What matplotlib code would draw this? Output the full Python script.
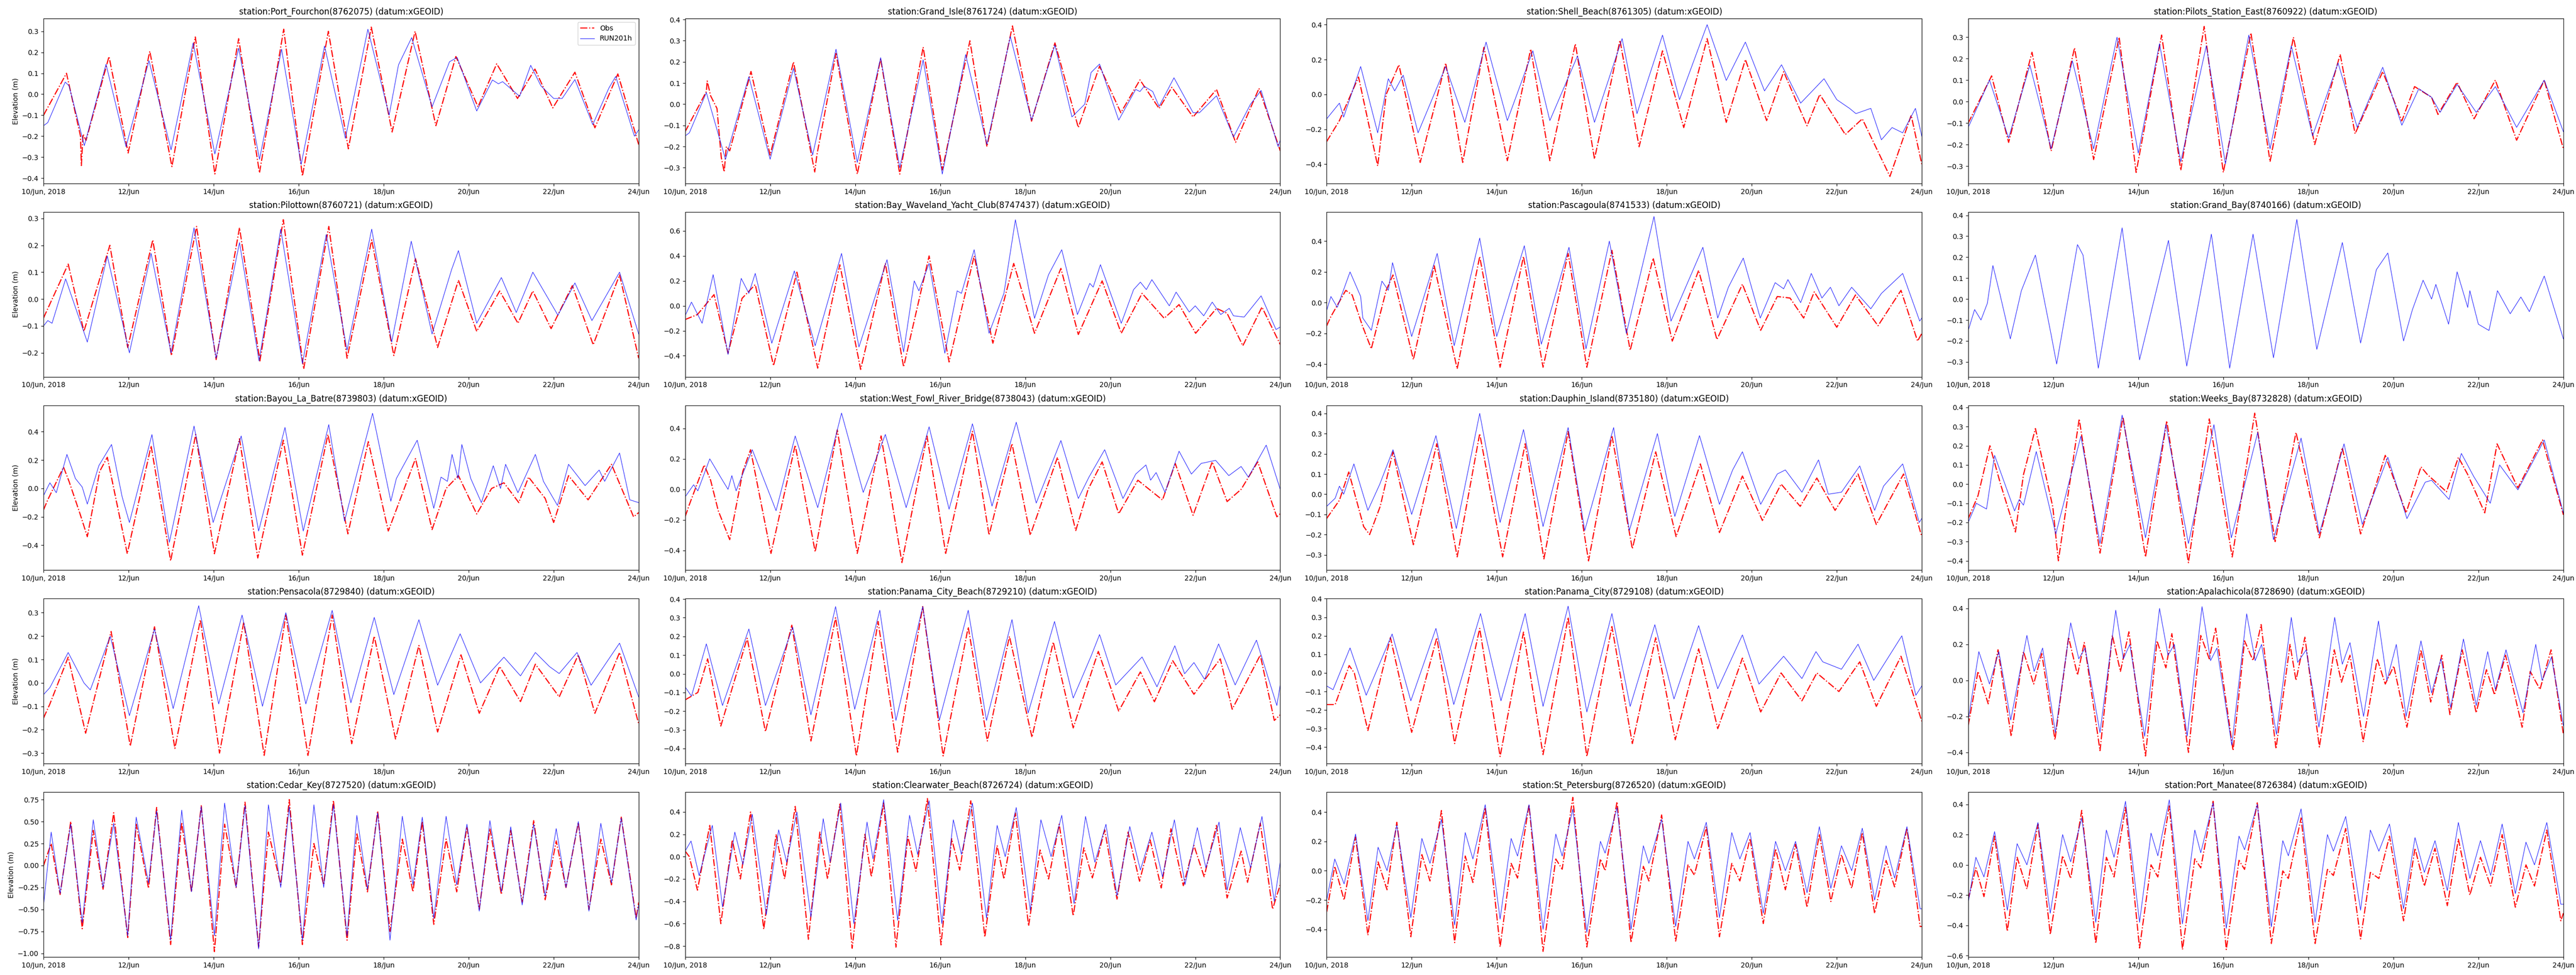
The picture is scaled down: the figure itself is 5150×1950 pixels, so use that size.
import numpy as np
import pandas as pd
import matplotlib
matplotlib.use("Agg")
import matplotlib.pyplot as plt

# days of June 2018 (peaks / troughs / kinks)
tick_days = [10, 12, 14, 16, 18, 20, 22, 24]
tick_labels = ["10/Jun, 2018", "12/Jun", "14/Jun", "16/Jun", "18/Jun", "20/Jun", "22/Jun", "24/Jun"]

station_names = [
    "Port_Fourchon(8762075)", "Grand_Isle(8761724)", "Shell_Beach(8761305)", "Pilots_Station_East(8760922)",
    "Pilottown(8760721)", "Bay_Waveland_Yacht_Club(8747437)", "Pascagoula(8741533)", "Grand_Bay(8740166)",
    "Bayou_La_Batre(8739803)", "West_Fowl_River_Bridge(8738043)", "Dauphin_Island(8735180)", "Weeks_Bay(8732828)",
    "Pensacola(8729840)", "Panama_City_Beach(8729210)", "Panama_City(8729108)", "Apalachicola(8728690)",
    "Cedar_Key(8727520)", "Clearwater_Beach(8726724)", "St_Petersburg(8726520)", "Port_Manatee(8726384)",
]

y_limits = [
    (-0.425, 0.361), (-0.374, 0.405), (-0.51, 0.435), (-0.381, 0.387),
    (-0.289, 0.324), (-0.569, 0.753), (-0.482, 0.590), (-0.371, 0.416),
    (-0.576, 0.586), (-0.530, 0.551), (-0.376, 0.440), (-0.449, 0.411),
    (-0.345, 0.360), (-0.481, 0.402), (-0.488, 0.400), (-0.462, 0.454),
    (-1.041, 0.835), (-0.898, 0.578), (-0.588, 0.536), (-0.609, 0.481),
]

port_fourchon_obs = [(10.0, -0.10), (10.54, 0.10), (10.87, -0.20), (10.89, -0.34), (10.93, -0.19), (11.0, -0.22),
    (11.54, 0.18), (11.99, -0.28), (12.50, 0.205), (13.02, -0.345), (13.57, 0.273), (14.03, -0.38), (14.59, 0.265),
    (15.08, -0.375), (15.65, 0.31), (16.09, -0.39), (16.70, 0.30), (17.17, -0.26), (17.71, 0.32), (18.2, -0.18),
    (18.74, 0.30), (19.23, -0.15), (19.70, 0.18), (20.22, -0.06), (20.66, 0.145), (21.15, -0.02), (21.56, 0.12),
    (21.98, -0.065), (22.50, 0.105), (22.97, -0.16), (23.51, 0.097), (24.0, -0.24)]
port_fourchon_run = [(10.0, -0.15), (10.1, -0.135), (10.51, 0.058), (10.6, 0.04), (10.96, -0.245), (11.47, 0.143),
    (11.94, -0.25), (12.48, 0.16), (13.0, -0.265), (13.52, 0.245), (14.03, -0.285), (14.59, 0.22), (15.08, -0.31),
    (15.6, 0.215), (16.06, -0.335), (16.61, 0.23), (17.1, -0.21), (17.63, 0.31), (18.13, -0.10), (18.35, 0.14),
    (18.66, 0.27), (19.14, -0.06), (19.55, 0.155), (19.73, 0.175), (20.19, -0.08), (20.56, 0.068), (20.7, 0.05),
    (20.8, 0.06), (21.2, -0.01), (21.46, 0.138), (21.7, 0.04), (22.0, -0.02), (22.2, -0.02), (22.5, 0.07),
    (22.92, -0.145), (23.3, 0.03), (23.46, 0.085), (23.9, -0.2), (24.0, -0.17)]

grand_isle_obs = [(10.0, -0.13), (10.5, 0.06), (10.52, 0.11), (10.6, 0.04), (10.75, -0.02), (10.85, -0.25),
    (10.92, -0.32), (10.97, -0.2), (11.05, -0.22), (11.55, 0.155), (12.0, -0.24), (12.55, 0.20), (13.0, -0.27),
    (13.05, -0.32), (13.1, -0.24), (13.55, 0.24), (14.05, -0.33), (14.6, 0.215), (15.05, -0.33), (15.6, 0.27),
    (16.05, -0.31), (16.7, 0.30), (17.1, -0.20), (17.7, 0.37), (18.15, -0.08), (18.7, 0.29), (19.25, -0.11),
    (19.75, 0.18), (20.25, -0.04), (20.7, 0.115), (21.15, -0.02), (21.45, 0.08), (21.95, -0.06), (22.5, 0.07),
    (22.95, -0.18), (23.5, 0.075), (24.0, -0.22)]
grand_isle_run = [(10.0, -0.15), (10.1, -0.135), (10.5, 0.055), (10.95, -0.26), (11.5, 0.13), (12.0, -0.26),
    (12.55, 0.17), (13.0, -0.24), (13.55, 0.26), (14.05, -0.275), (14.6, 0.22), (15.05, -0.30), (15.6, 0.21),
    (16.05, -0.33), (16.6, 0.235), (17.1, -0.19), (17.65, 0.32), (18.15, -0.075), (18.7, 0.28), (19.1, -0.06),
    (19.4, 0.0), (19.55, 0.15), (19.75, 0.19), (20.2, -0.075), (20.6, 0.07), (20.7, 0.06), (20.8, 0.085),
    (21.0, 0.06), (21.15, -0.01), (21.5, 0.125), (21.95, -0.04), (22.1, -0.04), (22.5, 0.04), (22.9, -0.155),
    (23.3, 0.0), (23.55, 0.065), (23.95, -0.2), (24.0, -0.17)]

shell_beach_obs = [(10.0, -0.27), (10.3, -0.15), (10.75, 0.10), (11.2, -0.41), (11.4, 0.0), (11.7, 0.17),
    (12.2, -0.39), (12.8, 0.18), (13.2, -0.39), (13.7, 0.27), (14.25, -0.38), (14.8, 0.26), (15.25, -0.38),
    (15.85, 0.29), (16.3, -0.37), (16.9, 0.31), (17.35, -0.30), (17.9, 0.25), (18.4, -0.19), (18.95, 0.32),
    (19.4, -0.16), (19.85, 0.20), (20.35, -0.15), (20.75, 0.13), (21.3, -0.18), (21.6, 0.0), (22.2, -0.23),
    (22.6, -0.14), (23.25, -0.47), (23.75, -0.12), (24.0, -0.40)]
shell_beach_run = [(10.0, -0.14), (10.3, -0.05), (10.4, -0.13), (10.8, 0.16), (11.2, -0.22), (11.45, 0.09),
    (11.6, 0.02), (11.8, 0.11), (12.15, -0.22), (12.8, 0.16), (13.25, -0.16), (13.75, 0.30), (14.25, -0.15),
    (14.85, 0.25), (15.25, -0.15), (15.9, 0.22), (16.3, -0.16), (16.95, 0.32), (17.3, -0.11), (17.9, 0.34),
    (18.3, -0.03), (18.95, 0.40), (19.4, 0.08), (19.85, 0.30), (20.3, 0.02), (20.7, 0.17), (21.15, -0.05),
    (21.7, 0.09), (22.0, -0.03), (22.3, -0.08), (22.45, -0.11), (22.8, -0.08), (23.05, -0.26), (23.3, -0.19),
    (23.55, -0.22), (23.85, -0.08), (24.0, -0.24)]

pilots_obs = [(10.0, -0.10), (10.55, 0.12), (10.95, -0.19), (11.5, 0.23), (11.95, -0.23), (12.5, 0.25),
    (12.95, -0.27), (13.55, 0.30), (13.95, -0.33), (14.55, 0.31), (15.0, -0.32), (15.55, 0.35), (16.0, -0.33),
    (16.65, 0.32), (17.1, -0.28), (17.65, 0.30), (18.15, -0.20), (18.75, 0.22), (19.1, -0.15), (19.75, 0.14),
    (20.2, -0.09), (20.5, 0.07), (20.9, 0.02), (21.05, -0.06), (21.5, 0.09), (21.9, -0.08), (22.4, 0.10),
    (22.9, -0.18), (23.55, 0.10), (24.0, -0.22)]
pilots_run = [(10.0, -0.12), (10.5, 0.10), (10.95, -0.17), (11.45, 0.17), (11.95, -0.22), (12.45, 0.19),
    (12.95, -0.22), (13.5, 0.30), (14.0, -0.24), (14.5, 0.27), (15.0, -0.28), (15.6, 0.26), (16.05, -0.29),
    (16.6, 0.31), (17.1, -0.22), (17.6, 0.26), (18.1, -0.16), (18.7, 0.18), (19.15, -0.12), (19.75, 0.16),
    (20.2, -0.11), (20.6, 0.06), (20.9, 0.02), (21.1, -0.05), (21.5, 0.08), (21.95, -0.05), (22.4, 0.07),
    (22.9, -0.12), (23.55, 0.10), (24.0, -0.14)]

pilottown_obs = [(10.0, -0.07), (10.58, 0.13), (10.95, -0.12), (11.56, 0.20), (11.98, -0.18), (12.57, 0.22),
    (13.01, -0.21), (13.6, 0.27), (14.06, -0.225), (14.61, 0.265), (15.09, -0.23), (15.64, 0.295), (16.12, -0.26),
    (16.71, 0.27), (17.14, -0.22), (17.72, 0.22), (18.24, -0.21), (18.75, 0.15), (19.27, -0.18), (19.76, 0.07),
    (20.19, -0.12), (20.73, 0.03), (21.16, -0.09), (21.51, 0.03), (21.94, -0.11), (22.44, 0.05), (22.93, -0.17),
    (23.55, 0.09), (24.0, -0.22)]
pilottown_run = [(10.0, -0.10), (10.1, -0.08), (10.2, -0.09), (10.52, 0.075), (11.03, -0.16), (11.5, 0.16),
    (12.02, -0.20), (12.53, 0.17), (13.0, -0.20), (13.54, 0.265), (14.06, -0.22), (14.61, 0.21), (15.07, -0.23),
    (15.58, 0.26), (16.09, -0.24), (16.65, 0.24), (17.14, -0.19), (17.72, 0.26), (18.19, -0.16), (18.65, 0.215),
    (19.14, -0.13), (19.6, 0.11), (19.76, 0.18), (20.19, -0.09), (20.77, 0.08), (21.12, -0.05), (21.51, 0.10),
    (22.1, -0.06), (22.5, 0.06), (22.9, -0.08), (23.55, 0.10), (24.0, -0.13)]

bay_waveland_obs = [(10.0, -0.11), (10.29, -0.07), (10.68, 0.09), (11.01, -0.38), (11.34, 0.06), (11.65, 0.17),
    (12.08, -0.48), (12.63, 0.27), (13.12, -0.50), (13.64, 0.33), (14.13, -0.51), (14.71, 0.34), (15.14, -0.49),
    (15.74, 0.40), (16.21, -0.45), (16.8, 0.40), (17.24, -0.30), (17.73, 0.34), (18.22, -0.22), (18.84, 0.30),
    (19.25, -0.23), (19.81, 0.20), (20.26, -0.22), (20.75, 0.10), (21.27, -0.10), (21.62, 0.01), (22.01, -0.22),
    (22.5, -0.02), (22.75, -0.06), (23.12, -0.32), (23.57, -0.01), (24.0, -0.31)]
bay_waveland_run = [(10.0, -0.08), (10.15, 0.03), (10.4, -0.14), (10.66, 0.25), (11.01, -0.39), (11.32, 0.22),
    (11.5, 0.10), (11.65, 0.26), (12.04, -0.30), (12.57, 0.28), (13.06, -0.32), (13.68, 0.42), (14.09, -0.33),
    (14.75, 0.37), (15.14, -0.37), (15.39, 0.20), (15.5, 0.12), (15.74, 0.34), (16.11, -0.38), (16.4, 0.12),
    (16.5, 0.10), (16.8, 0.45), (17.15, -0.22), (17.5, 0.10), (17.77, 0.69), (18.22, -0.10), (18.55, 0.25),
    (18.86, 0.45), (19.23, -0.07), (19.52, 0.18), (19.6, 0.15), (19.77, 0.33), (20.26, -0.14), (20.55, 0.13),
    (20.71, 0.19), (20.85, 0.13), (20.98, 0.21), (21.39, 0.0), (21.55, 0.11), (21.86, -0.05), (22.0, 0.0),
    (22.2, -0.08), (22.4, 0.03), (22.6, -0.07), (22.8, -0.02), (22.9, -0.08), (23.15, -0.09), (23.55, 0.08),
    (23.9, -0.19), (24.0, -0.17)]

pascagoula_obs = [(10.0, -0.15), (10.1, -0.09), (10.45, 0.08), (10.6, 0.05), (10.84, -0.15), (11.05, -0.30),
    (11.4, 0.08), (11.56, 0.18), (12.04, -0.37), (12.53, 0.24), (13.07, -0.43), (13.6, 0.30), (14.08, -0.42),
    (14.63, 0.30), (15.09, -0.42), (15.68, 0.32), (16.12, -0.42), (16.71, 0.34), (17.14, -0.31), (17.68, 0.29),
    (18.13, -0.25), (18.75, 0.21), (19.18, -0.24), (19.78, 0.12), (20.21, -0.18), (20.6, 0.04), (20.9, 0.03),
    (21.22, -0.10), (21.47, 0.07), (22.0, -0.16), (22.44, 0.05), (22.97, -0.15), (23.51, 0.08), (23.9, -0.25),
    (24.0, -0.20)]
pascagoula_run = [(10.0, -0.05), (10.1, 0.04), (10.25, -0.03), (10.55, 0.20), (10.8, 0.04), (10.85, -0.10),
    (11.05, -0.18), (11.3, 0.14), (11.45, 0.08), (11.55, 0.26), (12.0, -0.22), (12.6, 0.32), (13.0, -0.28),
    (13.6, 0.42), (14.0, -0.22), (14.65, 0.37), (15.05, -0.27), (15.7, 0.36), (16.1, -0.30), (16.65, 0.40),
    (17.05, -0.20), (17.7, 0.56), (18.1, -0.12), (18.85, 0.36), (19.2, -0.10), (19.45, 0.10), (19.8, 0.29),
    (20.2, -0.10), (20.55, 0.13), (20.75, 0.09), (20.85, 0.15), (21.15, 0.0), (21.4, 0.19), (21.65, 0.03),
    (21.85, 0.10), (22.05, -0.02), (22.35, 0.10), (22.8, -0.04), (23.05, 0.06), (23.55, 0.19), (23.95, -0.12),
    (24.0, -0.10)]

grand_bay_obs = []
grand_bay_run = [(10.0, -0.15), (10.15, -0.05), (10.3, -0.10), (10.45, -0.02), (10.58, 0.16), (10.75, 0.02),
    (10.99, -0.19), (11.25, 0.04), (11.58, 0.21), (11.95, -0.17), (12.08, -0.31), (12.57, 0.26), (12.7, 0.21),
    (13.06, -0.33), (13.62, 0.34), (14.03, -0.29), (14.71, 0.28), (15.14, -0.32), (15.72, 0.31), (16.15, -0.33),
    (16.7, 0.31), (17.18, -0.28), (17.73, 0.38), (18.2, -0.24), (18.8, 0.27), (19.23, -0.21), (19.6, 0.14),
    (19.87, 0.22), (20.24, -0.20), (20.45, -0.05), (20.7, 0.09), (20.9, 0.0), (21.0, 0.07), (21.3, -0.12),
    (21.5, 0.13), (21.75, -0.04), (21.8, 0.04), (22.0, -0.12), (22.25, -0.15), (22.45, 0.04), (22.75, -0.07),
    (23.0, 0.01), (23.2, -0.06), (23.55, 0.11), (24.0, -0.19)]

bayou_la_batre_obs = [(10.0, -0.15), (10.1, -0.08), (10.47, 0.15), (10.6, 0.05), (10.86, -0.18), (11.03, -0.34),
    (11.32, 0.12), (11.5, 0.22), (11.97, -0.46), (12.53, 0.30), (12.99, -0.51), (13.58, 0.38), (14.02, -0.46),
    (14.61, 0.35), (15.04, -0.49), (15.64, 0.34), (16.09, -0.47), (16.69, 0.38), (17.16, -0.32), (17.64, 0.33),
    (18.11, -0.30), (18.75, 0.21), (19.14, -0.29), (19.47, 0.0), (19.76, 0.09), (20.19, -0.18), (20.54, 0.0),
    (20.83, 0.04), (21.18, -0.10), (21.41, 0.08), (21.8, -0.07), (22.0, -0.24), (22.35, 0.09), (22.81, -0.08),
    (23.36, 0.17), (23.88, -0.20), (24.0, -0.17)]
bayou_la_batre_run = [(10.0, -0.05), (10.15, 0.04), (10.3, -0.03), (10.55, 0.24), (10.75, 0.07), (10.91, 0.01),
    (11.03, -0.11), (11.3, 0.16), (11.6, 0.31), (11.85, -0.06), (12.02, -0.24), (12.55, 0.38), (12.96, -0.38),
    (13.54, 0.44), (13.99, -0.24), (14.65, 0.37), (15.06, -0.30), (15.68, 0.43), (16.11, -0.30), (16.71, 0.45),
    (17.08, -0.23), (17.74, 0.53), (18.17, -0.09), (18.3, 0.07), (18.79, 0.34), (19.18, -0.14), (19.35, 0.08),
    (19.5, 0.05), (19.61, 0.24), (19.75, 0.07), (19.84, 0.31), (20.05, 0.07), (20.3, -0.10), (20.58, 0.16),
    (20.75, 0.0), (20.87, 0.17), (21.16, -0.03), (21.57, 0.24), (21.76, 0.05), (22.09, -0.12), (22.35, 0.17),
    (22.74, 0.02), (23.07, 0.13), (23.2, 0.05), (23.55, 0.25), (23.79, -0.08), (24.0, -0.10)]

west_fowl_obs = [(10.0, -0.18), (10.1, -0.10), (10.45, 0.16), (10.6, 0.06), (10.78, -0.14), (11.05, -0.33),
    (11.36, 0.12), (11.54, 0.26), (12.02, -0.42), (12.59, 0.29), (13.06, -0.41), (13.58, 0.39), (14.05, -0.42),
    (14.61, 0.35), (15.1, -0.48), (15.69, 0.35), (16.13, -0.42), (16.76, 0.38), (17.15, -0.30), (17.69, 0.30),
    (18.12, -0.30), (18.76, 0.21), (19.19, -0.27), (19.48, 0.0), (19.81, 0.18), (20.2, -0.16), (20.65, 0.06),
    (21.23, -0.07), (21.53, 0.17), (21.95, -0.17), (22.4, 0.18), (22.75, -0.08), (23.08, 0.0), (23.47, 0.18),
    (23.92, -0.18), (24.0, -0.16)]
west_fowl_run = [(10.0, -0.05), (10.2, 0.03), (10.3, -0.01), (10.58, 0.20), (10.75, 0.12), (10.9, 0.05),
    (11.01, 0.0), (11.1, 0.09), (11.2, -0.01), (11.58, 0.26), (12.14, -0.14), (12.59, 0.35), (13.12, -0.12),
    (13.68, 0.50), (14.19, -0.02), (14.71, 0.36), (15.2, -0.12), (15.74, 0.41), (16.21, -0.13), (16.76, 0.43),
    (17.22, -0.11), (17.79, 0.44), (18.26, -0.09), (18.84, 0.32), (19.25, -0.06), (19.5, 0.08), (19.87, 0.26),
    (20.3, -0.06), (20.6, 0.10), (20.84, 0.16), (20.95, 0.06), (21.08, 0.11), (21.29, -0.02), (21.62, 0.25),
    (21.91, 0.10), (22.14, 0.17), (22.48, 0.19), (22.79, 0.09), (23.08, 0.15), (23.25, 0.08), (23.67, 0.29),
    (24.0, 0.0)]

dauphin_obs = [(10.0, -0.12), (10.3, -0.03), (10.52, 0.11), (10.87, -0.16), (11.01, -0.20), (11.26, -0.06),
    (11.56, 0.21), (12.04, -0.25), (12.59, 0.25), (13.07, -0.31), (13.6, 0.30), (14.14, -0.31), (14.67, 0.25),
    (15.11, -0.32), (15.68, 0.31), (16.16, -0.33), (16.71, 0.29), (17.19, -0.27), (17.74, 0.21), (18.22, -0.21),
    (18.79, 0.15), (19.24, -0.19), (19.78, 0.09), (20.25, -0.13), (20.69, 0.05), (21.14, -0.06), (21.53, 0.08),
    (21.96, -0.08), (22.5, 0.10), (22.93, -0.15), (23.57, 0.10), (24.0, -0.21)]
dauphin_run = [(10.0, -0.06), (10.2, -0.02), (10.3, 0.04), (10.4, 0.0), (10.64, 0.15), (10.97, -0.08),
    (11.25, 0.05), (11.56, 0.22), (12.0, -0.10), (12.57, 0.29), (13.05, -0.17), (13.6, 0.40), (14.08, -0.14),
    (14.63, 0.32), (15.09, -0.16), (15.68, 0.33), (16.07, -0.18), (16.75, 0.33), (17.12, -0.18), (17.78, 0.30),
    (18.19, -0.11), (18.77, 0.29), (19.24, -0.05), (19.55, 0.12), (19.78, 0.21), (20.21, -0.05), (20.6, 0.10),
    (20.79, 0.12), (21.18, 0.01), (21.57, 0.17), (21.8, 0.0), (22.11, 0.01), (22.54, 0.14), (22.89, -0.08),
    (23.1, 0.04), (23.55, 0.15), (23.94, -0.14), (24.0, -0.12)]

weeks_bay_obs = [(10.0, -0.18), (10.23, -0.06), (10.51, 0.20), (10.76, 0.0), (11.11, -0.25), (11.3, 0.05),
    (11.58, 0.29), (11.99, -0.12), (12.12, -0.40), (12.61, 0.34), (13.1, -0.36), (13.64, 0.35), (14.17, -0.38),
    (14.67, 0.33), (15.18, -0.41), (15.67, 0.34), (16.21, -0.38), (16.74, 0.37), (17.22, -0.30), (17.71, 0.27),
    (18.26, -0.28), (18.8, 0.19), (19.23, -0.26), (19.81, 0.15), (20.3, -0.15), (20.65, 0.09), (20.8, 0.05),
    (21.25, -0.04), (21.53, 0.14), (21.75, 0.05), (22.15, -0.15), (22.44, 0.21), (22.93, -0.02), (23.51, 0.23),
    (24.0, -0.16)]
weeks_bay_run = [(10.0, -0.20), (10.19, -0.10), (10.43, -0.13), (10.62, 0.15), (11.09, -0.14), (11.2, -0.08),
    (11.3, -0.11), (11.6, 0.17), (12.06, -0.26), (12.65, 0.25), (13.1, -0.31), (13.62, 0.36), (14.17, -0.28),
    (14.65, 0.31), (15.18, -0.31), (15.78, 0.31), (16.19, -0.28), (16.81, 0.27), (17.18, -0.29), (17.83, 0.24),
    (18.26, -0.26), (18.84, 0.21), (19.27, -0.21), (19.87, 0.14), (20.32, -0.18), (20.75, 0.01), (20.9, 0.02),
    (21.31, -0.08), (21.6, 0.16), (21.89, 0.04), (22.28, -0.10), (22.5, 0.10), (22.93, -0.03), (23.55, 0.23),
    (24.0, -0.15)]

pensacola_obs = [(10.0, -0.15), (10.15, -0.09), (10.58, 0.11), (10.99, -0.215), (11.59, 0.22), (12.04, -0.27),
    (12.61, 0.24), (13.09, -0.28), (13.69, 0.27), (14.14, -0.30), (14.71, 0.26), (15.19, -0.31), (15.7, 0.29),
    (16.22, -0.31), (16.79, 0.29), (17.25, -0.26), (17.78, 0.20), (18.28, -0.24), (18.83, 0.16), (19.27, -0.21),
    (19.82, 0.12), (20.25, -0.13), (20.73, 0.07), (21.22, -0.08), (21.57, 0.08), (22.13, -0.06), (22.58, 0.12),
    (22.97, -0.13), (23.55, 0.13), (24.0, -0.175)]
pensacola_run = [(10.0, -0.05), (10.15, -0.02), (10.58, 0.13), (10.95, 0.0), (11.1, -0.03), (11.57, 0.20),
    (12.02, -0.14), (12.61, 0.23), (13.05, -0.11), (13.65, 0.33), (14.12, -0.09), (14.67, 0.29), (15.15, -0.10),
    (15.7, 0.30), (16.17, -0.09), (16.79, 0.31), (17.23, -0.085), (17.78, 0.28), (18.24, -0.05), (18.83, 0.27),
    (19.27, -0.01), (19.8, 0.21), (20.28, 0.0), (20.83, 0.11), (21.22, 0.03), (21.57, 0.13), (21.9, 0.07),
    (22.13, 0.04), (22.55, 0.13), (22.88, -0.01), (23.55, 0.17), (24.0, -0.06)]

panama_city_beach_obs = [(10.0, -0.14), (10.3, -0.10), (10.53, 0.08), (10.84, -0.28), (11.46, 0.19), (11.89, -0.31),
    (12.51, 0.26), (12.96, -0.36), (13.54, 0.30), (14.03, -0.44), (14.54, 0.28), (15.0, -0.42), (15.59, 0.36),
    (16.07, -0.44), (16.66, 0.25), (17.11, -0.36), (17.63, 0.20), (18.16, -0.34), (18.66, 0.17), (19.13, -0.29),
    (19.72, 0.12), (20.2, -0.20), (20.71, 0.01), (21.04, -0.15), (21.47, 0.07), (21.97, -0.11), (22.59, 0.08),
    (22.87, -0.19), (23.53, 0.10), (23.86, -0.25), (24.0, -0.22)]
panama_city_beach_run = [(10.0, -0.07), (10.15, -0.12), (10.5, 0.16), (10.88, -0.17), (11.5, 0.24), (11.89, -0.17),
    (12.53, 0.25), (12.96, -0.22), (13.54, 0.36), (13.99, -0.19), (14.58, 0.34), (14.96, -0.25), (15.59, 0.36),
    (15.98, -0.25), (16.66, 0.34), (17.09, -0.25), (17.69, 0.29), (18.07, -0.21), (18.69, 0.28), (19.13, -0.13),
    (19.56, 0.10), (19.75, 0.21), (20.13, -0.06), (20.75, 0.09), (21.1, -0.07), (21.52, 0.15), (21.75, 0.0),
    (21.97, 0.06), (22.22, -0.03), (22.55, 0.16), (22.94, -0.06), (23.44, 0.18), (23.92, -0.17), (24.0, -0.06)]

panama_city_obs = [(10.0, -0.17), (10.2, -0.17), (10.53, 0.04), (10.65, 0.0), (10.97, -0.31), (11.5, 0.19),
    (12.0, -0.32), (12.59, 0.19), (13.01, -0.38), (13.6, 0.24), (14.08, -0.45), (14.63, 0.22), (15.09, -0.44),
    (15.68, 0.30), (16.12, -0.45), (16.71, 0.25), (17.19, -0.38), (17.74, 0.19), (18.2, -0.36), (18.75, 0.13),
    (19.2, -0.30), (19.78, 0.08), (20.21, -0.21), (20.69, 0.0), (21.18, -0.15), (21.53, 0.0), (22.05, -0.10),
    (22.54, 0.06), (22.93, -0.18), (23.51, 0.09), (24.0, -0.26)]
panama_city_run = [(10.0, -0.07), (10.15, -0.09), (10.55, 0.135), (10.93, -0.12), (11.54, 0.21), (11.98, -0.15),
    (12.57, 0.24), (12.99, -0.17), (13.62, 0.32), (14.1, -0.15), (14.67, 0.32), (15.09, -0.18), (15.68, 0.36),
    (16.12, -0.21), (16.71, 0.32), (17.14, -0.18), (17.72, 0.26), (18.17, -0.14), (18.75, 0.255), (19.2, -0.085),
    (19.78, 0.205), (20.17, -0.06), (20.75, 0.09), (21.18, -0.03), (21.51, 0.115), (21.67, 0.06), (22.11, 0.02),
    (22.5, 0.155), (22.87, -0.04), (23.53, 0.20), (23.86, -0.12), (24.0, -0.07)]

apalachicola_obs = [(10.0, -0.25), (10.23, 0.05), (10.47, -0.13), (10.7, 0.17), (11.01, -0.31), (11.3, 0.16),
    (11.54, -0.02), (11.73, 0.15), (12.04, -0.33), (12.36, 0.24), (12.57, 0.03), (12.73, 0.21), (13.1, -0.39),
    (13.39, 0.25), (13.58, 0.05), (13.78, 0.27), (14.17, -0.42), (14.44, 0.22), (14.65, 0.07), (14.79, 0.26),
    (15.18, -0.40), (15.47, 0.25), (15.67, 0.12), (15.82, 0.29), (16.23, -0.39), (16.5, 0.22), (16.7, 0.11),
    (16.89, 0.31), (17.24, -0.38), (17.57, 0.20), (17.71, 0.0), (17.92, 0.24), (18.26, -0.37), (18.61, 0.17),
    (18.78, -0.01), (18.98, 0.14), (19.29, -0.34), (19.62, 0.12), (19.81, -0.02), (20.01, 0.08), (20.32, -0.26),
    (20.65, 0.17), (20.88, -0.12), (21.14, 0.14), (21.33, -0.19), (21.62, 0.17), (21.95, -0.18), (22.19, 0.06),
    (22.38, -0.08), (22.64, 0.14), (23.03, -0.26), (23.22, 0.05), (23.45, -0.05), (23.71, 0.17), (24.0, -0.30)]
apalachicola_run = [(10.0, -0.22), (10.25, 0.16), (10.5, -0.02), (10.72, 0.16), (11.0, -0.22), (11.38, 0.25),
    (11.55, 0.05), (11.75, 0.18), (12.05, -0.29), (12.41, 0.32), (12.6, 0.12), (12.75, 0.18), (13.1, -0.29),
    (13.47, 0.39), (13.65, 0.12), (13.8, 0.20), (14.15, -0.31), (14.5, 0.40), (14.7, 0.14), (14.85, 0.20),
    (15.15, -0.31), (15.5, 0.41), (15.7, 0.11), (15.85, 0.18), (16.2, -0.36), (16.55, 0.37), (16.75, 0.11),
    (16.9, 0.20), (17.25, -0.30), (17.6, 0.35), (17.75, 0.10), (17.95, 0.17), (18.25, -0.26), (18.62, 0.35),
    (18.8, 0.09), (18.98, 0.21), (19.3, -0.20), (19.65, 0.33), (19.85, 0.0), (20.07, 0.20), (20.3, -0.20),
    (20.65, 0.22), (20.9, -0.07), (21.12, 0.12), (21.35, -0.15), (21.65, 0.23), (21.95, -0.14), (22.22, 0.16),
    (22.4, -0.05), (22.65, 0.17), (23.05, -0.18), (23.35, 0.20), (23.5, 0.0), (23.72, 0.13), (24.0, -0.25)]

cedar_key_t = [10.0, 10.18, 10.39, 10.64, 10.91, 11.17, 11.40, 11.65, 11.98, 12.18, 12.47, 12.66, 12.99, 13.25,
    13.48, 13.71, 14.02, 14.26, 14.53, 14.74, 15.06, 15.29, 15.58, 15.78, 16.09, 16.36, 16.59, 16.82, 17.14, 17.37,
    17.62, 17.86, 18.15, 18.44, 18.69, 18.91, 19.18, 19.47, 19.72, 19.96, 20.25, 20.50, 20.77, 20.99, 21.26, 21.53,
    21.80, 22.06, 22.29, 22.58, 22.83, 23.11, 23.36, 23.59, 23.94, 24.0]
cedar_key_obs_v = [0.0, 0.25, -0.33, 0.50, -0.72, 0.40, -0.27, 0.60, -0.82, 0.47, -0.26, 0.66, -0.90, 0.49, -0.30,
    0.68, -0.98, 0.47, -0.25, 0.72, -0.93, 0.38, -0.22, 0.75, -0.90, 0.25, -0.22, 0.74, -0.85, 0.37, -0.30, 0.62,
    -0.75, 0.30, -0.30, 0.50, -0.67, 0.30, -0.30, 0.44, -0.50, 0.42, -0.33, 0.40, -0.42, 0.51, -0.39, 0.28, -0.25,
    0.49, -0.50, 0.30, -0.22, 0.55, -0.60, -0.42]
cedar_key_run_v = [-0.45, 0.38, -0.32, 0.47, -0.65, 0.52, -0.25, 0.48, -0.80, 0.55, -0.20, 0.62, -0.85, 0.63, -0.30,
    0.67, -0.80, 0.71, -0.25, 0.68, -0.95, 0.69, -0.25, 0.67, -0.85, 0.69, -0.25, 0.69, -0.80, 0.57, -0.27, 0.60,
    -0.85, 0.56, -0.22, 0.55, -0.60, 0.56, -0.22, 0.47, -0.52, 0.51, -0.30, 0.44, -0.45, 0.47, -0.35, 0.42, -0.25,
    0.50, -0.52, 0.48, -0.20, 0.54, -0.62, -0.45]

clearwater_obs = [(10.0, 0.05), (10.1, 0.0), (10.29, -0.30), (10.58, 0.28), (10.84, -0.60), (11.11, 0.15),
    (11.3, -0.20), (11.54, 0.40), (11.85, -0.65), (12.14, 0.20), (12.34, -0.20), (12.59, 0.45), (12.9, -0.74),
    (13.17, 0.22), (13.35, -0.20), (13.64, 0.47), (13.93, -0.82), (14.23, 0.20), (14.38, -0.18), (14.67, 0.48),
    (14.96, -0.81), (15.24, 0.18), (15.43, -0.13), (15.7, 0.52), (16.02, -0.79), (16.27, 0.16), (16.46, -0.12),
    (16.72, 0.50), (17.05, -0.72), (17.34, 0.10), (17.5, -0.20), (17.77, 0.39), (18.08, -0.62), (18.35, 0.06),
    (18.55, -0.20), (18.8, 0.29), (19.13, -0.53), (19.38, 0.08), (19.58, -0.19), (19.87, 0.24), (20.16, -0.38),
    (20.42, 0.22), (20.69, -0.22), (20.94, 0.15), (21.2, -0.28), (21.43, 0.25), (21.72, -0.26), (21.97, 0.10),
    (22.21, -0.18), (22.5, 0.28), (22.75, -0.37), (23.08, 0.05), (23.23, -0.23), (23.53, 0.30), (23.82, -0.47),
    (24.0, -0.25)]
clearwater_run = [(10.0, 0.05), (10.14, 0.14), (10.33, -0.17), (10.64, 0.28), (10.88, -0.45), (11.17, 0.22),
    (11.36, -0.07), (11.58, 0.38), (11.91, -0.52), (12.2, 0.24), (12.39, -0.05), (12.63, 0.40), (12.96, -0.54),
    (13.25, 0.34), (13.41, -0.05), (13.66, 0.48), (13.97, -0.60), (14.28, 0.31), (14.42, -0.02), (14.67, 0.51),
    (15.0, -0.57), (15.28, 0.37), (15.47, 0.02), (15.74, 0.50), (16.04, -0.60), (16.31, 0.33), (16.5, 0.02),
    (16.76, 0.48), (17.09, -0.55), (17.34, 0.28), (17.53, 0.0), (17.79, 0.44), (18.12, -0.48), (18.37, 0.33),
    (18.61, 0.0), (18.86, 0.37), (19.15, -0.42), (19.42, 0.36), (19.64, -0.05), (19.9, 0.29), (20.16, -0.35),
    (20.46, 0.27), (20.71, -0.12), (20.98, 0.22), (21.23, -0.18), (21.51, 0.33), (21.76, -0.25), (22.05, 0.26),
    (22.25, -0.10), (22.56, 0.31), (22.75, -0.30), (23.06, 0.26), (23.3, -0.10), (23.57, 0.36), (23.86, -0.40),
    (24.0, -0.05)]

st_pete_t = [10.0, 10.19, 10.41, 10.68, 10.97, 11.21, 11.42, 11.65, 11.98, 12.24, 12.43, 12.70, 13.01, 13.26, 13.44,
    13.73, 14.08, 14.34, 14.49, 14.76, 15.09, 15.39, 15.54, 15.79, 16.12, 16.44, 16.55, 16.83, 17.16, 17.45, 17.58,
    17.88, 18.21, 18.50, 18.65, 18.93, 19.24, 19.53, 19.72, 19.96, 20.27, 20.56, 20.79, 21.03, 21.30, 21.59, 21.86,
    22.11, 22.35, 22.60, 22.89, 23.16, 23.36, 23.65, 23.96, 24.0]
st_pete_obs_v = [-0.28, 0.03, -0.20, 0.23, -0.44, 0.06, -0.13, 0.33, -0.45, 0.11, -0.07, 0.41, -0.49, 0.10, -0.08,
    0.43, -0.52, 0.05, -0.05, 0.45, -0.55, 0.08, 0.01, 0.50, -0.52, 0.08, 0.0, 0.47, -0.49, 0.03, -0.07, 0.38, -0.48,
    0.04, -0.03, 0.30, -0.45, 0.05, -0.07, 0.22, -0.36, 0.15, -0.13, 0.18, -0.25, 0.25, -0.21, 0.11, -0.12, 0.26,
    -0.29, 0.07, -0.11, 0.29, -0.38, -0.38]
st_pete_run_v = [-0.20, 0.08, -0.09, 0.25, -0.34, 0.16, 0.0, 0.31, -0.32, 0.22, 0.05, 0.35, -0.37, 0.26, 0.08, 0.45,
    -0.33, 0.22, 0.10, 0.45, -0.40, 0.25, 0.10, 0.42, -0.42, 0.20, 0.12, 0.43, -0.40, 0.17, 0.05, 0.35, -0.38, 0.20,
    0.08, 0.33, -0.32, 0.26, 0.08, 0.26, -0.29, 0.20, 0.0, 0.20, -0.15, 0.30, -0.12, 0.17, 0.0, 0.29, -0.20, 0.17,
    -0.05, 0.30, -0.26, -0.26]

port_manatee_t = [10.0, 10.18, 10.37, 10.62, 10.92, 11.15, 11.38, 11.64, 11.93, 12.22, 12.41, 12.67, 13.00, 13.25,
    13.43, 13.70, 14.03, 14.30, 14.46, 14.73, 15.04, 15.33, 15.47, 15.76, 16.07, 16.37, 16.50, 16.80, 17.13, 17.40,
    17.53, 17.83, 18.16, 18.45, 18.59, 18.88, 19.23, 19.46, 19.66, 19.91, 20.24, 20.51, 20.73, 20.98, 21.27, 21.53,
    21.80, 22.05, 22.29, 22.56, 22.87, 23.12, 23.32, 23.61, 23.94, 24.0]
port_manatee_obs_v = [-0.23, -0.02, -0.21, 0.19, -0.44, 0.05, -0.16, 0.27, -0.46, 0.06, -0.09, 0.36, -0.52, 0.05,
    -0.08, 0.38, -0.55, 0.0, -0.08, 0.39, -0.56, 0.04, -0.02, 0.42, -0.56, 0.03, -0.03, 0.41, -0.52, -0.04, -0.09,
    0.31, -0.52, -0.03, -0.07, 0.24, -0.49, -0.05, -0.09, 0.19, -0.37, 0.11, -0.14, 0.11, -0.27, 0.17, -0.20, 0.05,
    -0.14, 0.20, -0.28, 0.0, -0.14, 0.23, -0.37, -0.32]
port_manatee_run_v = [-0.25, 0.05, -0.08, 0.22, -0.30, 0.14, 0.0, 0.28, -0.32, 0.20, 0.02, 0.31, -0.38, 0.23, 0.05,
    0.42, -0.38, 0.21, 0.06, 0.43, -0.39, 0.23, 0.08, 0.41, -0.42, 0.19, 0.10, 0.40, -0.41, 0.16, 0.06, 0.37, -0.38,
    0.20, 0.09, 0.32, -0.30, 0.23, 0.09, 0.27, -0.29, 0.18, -0.05, 0.16, -0.17, 0.28, -0.09, 0.16, -0.07, 0.27,
    -0.19, 0.15, 0.0, 0.28, -0.26, -0.26]

cedar_key_obs = list(zip(cedar_key_t, cedar_key_obs_v))
cedar_key_run = list(zip(cedar_key_t, cedar_key_run_v))
st_pete_obs = list(zip(st_pete_t, st_pete_obs_v))
st_pete_run = list(zip(st_pete_t, st_pete_run_v))
port_manatee_obs = list(zip(port_manatee_t, port_manatee_obs_v))
port_manatee_run = list(zip(port_manatee_t, port_manatee_run_v))

obs_series = [port_fourchon_obs, grand_isle_obs, shell_beach_obs, pilots_obs,
              pilottown_obs, bay_waveland_obs, pascagoula_obs, grand_bay_obs,
              bayou_la_batre_obs, west_fowl_obs, dauphin_obs, weeks_bay_obs,
              pensacola_obs, panama_city_beach_obs, panama_city_obs, apalachicola_obs,
              cedar_key_obs, clearwater_obs, st_pete_obs, port_manatee_obs]
run_series = [port_fourchon_run, grand_isle_run, shell_beach_run, pilots_run,
              pilottown_run, bay_waveland_run, pascagoula_run, grand_bay_run,
              bayou_la_batre_run, west_fowl_run, dauphin_run, weeks_bay_run,
              pensacola_run, panama_city_beach_run, panama_city_run, apalachicola_run,
              cedar_key_run, clearwater_run, st_pete_run, port_manatee_run]


def to_dates(days):
    # day-of-June -> timestamps
    return pd.Timestamp("2018-06-01") + pd.to_timedelta(np.asarray(days, dtype=float) - 1.0, unit="D")


fig, axes = plt.subplots(5, 4, figsize=(51.5, 19.5), dpi=100)
fig.subplots_adjust(left=0.0169, right=0.9951, top=0.981, bottom=0.0185, wspace=0.078, hspace=0.173)

for i, ax in enumerate(axes.flat):
    obs = obs_series[i]
    run = run_series[i]
    if obs:
        t, v = zip(*obs)
        ax.plot(to_dates(t), v, linestyle="-.", color="red", linewidth=1.6, label="Obs")
    t, v = zip(*run)
    ax.plot(to_dates(t), v, color="blue", linewidth=0.8, alpha=0.85, label="RUN201h")
    ax.set_xlim(to_dates([10, 24]))
    ax.set_xticks(to_dates(tick_days))
    ax.set_xticklabels(tick_labels)
    ax.set_ylim(y_limits[i])
    ax.set_title("station:" + station_names[i] + " (datum:xGEOID)")
    if i % 4 == 0:
        ax.set_ylabel("Elevation (m)")

axes[0, 0].legend(loc="upper right")

fig.savefig("out.png", dpi=100)
